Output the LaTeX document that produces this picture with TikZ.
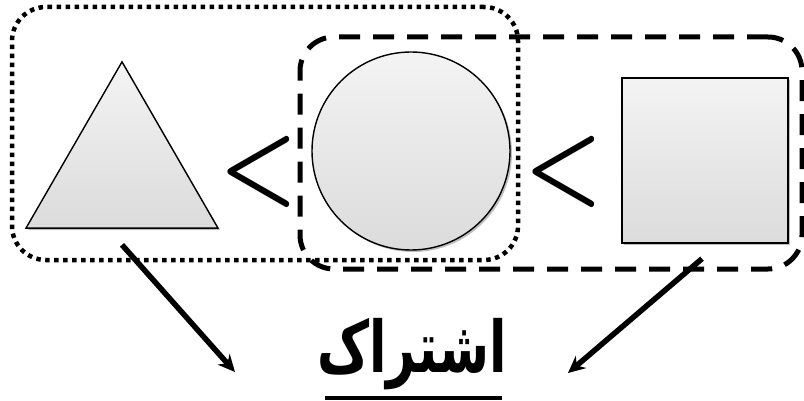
\documentclass[tikz,border=0pt]{standalone}
\usepackage{fontspec}
\usepackage{graphicx}
\newfontfamily\arabicfont[Script=Arabic]{DejaVu Sans}
\TeXXeTstate=1
\usetikzlibrary{shapes.geometric,arrows.meta,shadows}
\tikzset{
  shapefill/.style={draw=black, line width=1.4pt, top color=gray!9, bottom color=gray!28, inner sep=0pt,
    drop shadow={shadow xshift=2pt, shadow yshift=-2pt, opacity=0.25, fill=black}},
  dotbox/.style={draw=black, line width=4.5pt, dash pattern=on 4.5pt off 4.5pt, rounded corners=34pt, inner sep=0pt},
  dashbox/.style={draw=black, line width=5pt, dash pattern=on 21pt off 13pt, rounded corners=34pt, inner sep=0pt},
  ltsign/.style={inner sep=0pt},
  arr/.style={line width=5.5pt, -{Stealth[length=17pt,width=16pt]}},
}
\newcommand{\bigless}{\scalebox{8.8}[10.6]{\boldmath$<$}}
\begin{document}
\begin{tikzpicture}[x=1pt,y=-1pt]
\useasboundingbox (0,0) rectangle (804,401);
\node[dotbox, minimum width=506pt, minimum height=253pt] (grpa) at (265,133.5) {};
\node[dashbox, minimum width=502pt, minimum height=232pt] (grpb) at (551,153) {};
\node[shapefill, regular polygon, regular polygon sides=3, minimum size=221.7pt] (tri) at (122,172.7) {};
\node[shapefill, circle, minimum size=198pt] (circ) at (411,151) {};
\node[shapefill, rectangle, minimum width=166pt, minimum height=165pt] (sq) at (705,160.5) {};
\node[ltsign] (lta) at (258.5,172.5) {\bigless};
\node[ltsign] (ltb) at (564,172.5) {\bigless};
\node[font=\arabicfont\bfseries\fontsize{62}{62}\selectfont, inner sep=0pt, anchor=base] (lbl) at (412,372) {\scalebox{0.82}[1.15]{\beginR اشتراک\endR}};
\draw[line width=4.5pt] (325,398) -- (502,398);
\coordinate (ea) at (235,372);
\coordinate (eb) at (568,373);
\draw[arr] ([yshift=-16pt]tri.south) -- (ea);
\draw[arr] ([xshift=-3pt,yshift=-15pt]sq.south) -- (eb);
\end{tikzpicture}
\end{document}
